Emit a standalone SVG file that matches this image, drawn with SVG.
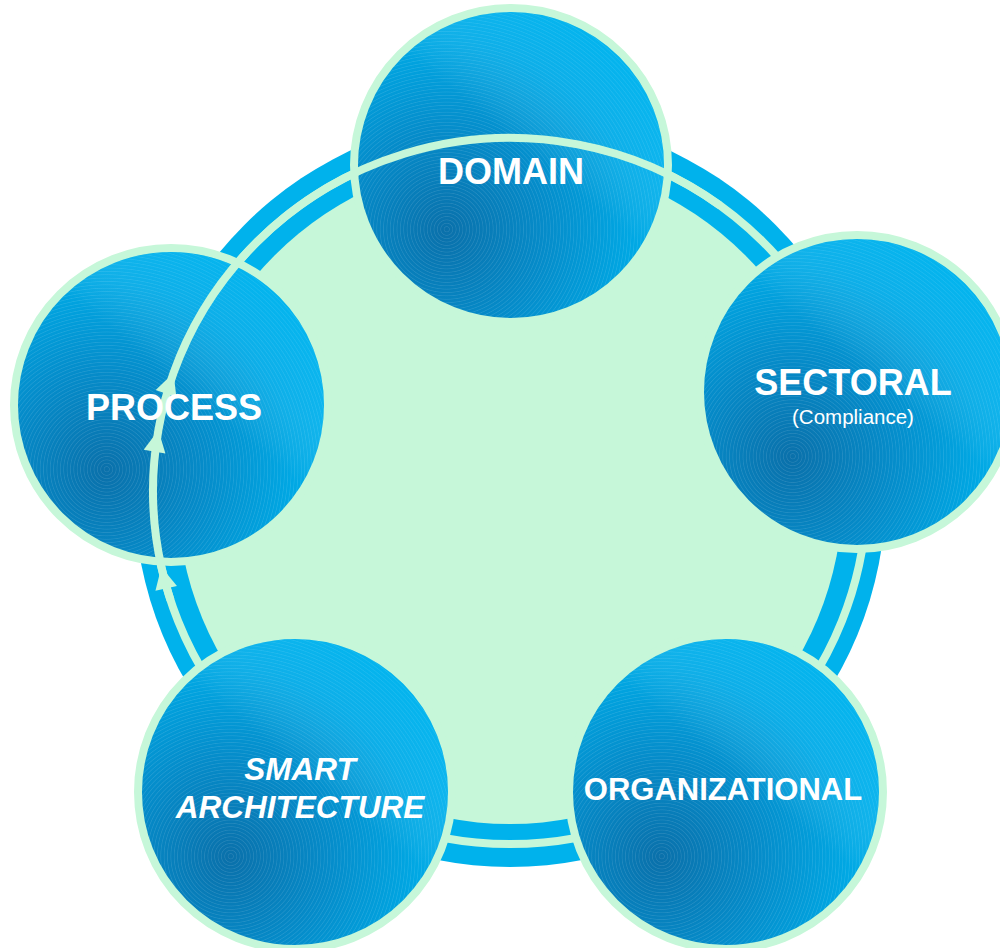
<svg xmlns="http://www.w3.org/2000/svg" width="1000" height="948" viewBox="0 0 1000 948">
  <defs>
    <!-- shaded sphere fill: dark spot low-left, bright rim top-right -->
    <radialGradient id="sphere" cx="0.29" cy="0.71" r="0.8" fx="0.29" fy="0.71">
      <stop offset="0" stop-color="#0A70AA"/>
      <stop offset="0.4" stop-color="#058CCA"/>
      <stop offset="0.75" stop-color="#00A8E4"/>
      <stop offset="1" stop-color="#00B4EE"/>
    </radialGradient>
    <!-- fine concentric line texture -->
    <radialGradient id="rings" cx="0.29" cy="0.71" r="0.011" fx="0.29" fy="0.71" spreadMethod="repeat">
      <stop offset="0" stop-color="#FFFFFF" stop-opacity="0"/>
      <stop offset="0.55" stop-color="#FFFFFF" stop-opacity="0"/>
      <stop offset="0.8" stop-color="#FFFFFF" stop-opacity="0.5"/>
      <stop offset="1" stop-color="#FFFFFF" stop-opacity="0"/>
    </radialGradient>
    <!-- soft sheen across the upper right -->
    <linearGradient id="sheen" x1="0.2" y1="0.9" x2="0.85" y2="0.1">
      <stop offset="0" stop-color="#FFFFFF" stop-opacity="0"/>
      <stop offset="0.55" stop-color="#FFFFFF" stop-opacity="0"/>
      <stop offset="0.75" stop-color="#4FD0FF" stop-opacity="0.18"/>
      <stop offset="1" stop-color="#00B3EE" stop-opacity="0.3"/>
    </linearGradient>
    <marker id="arrow" markerUnits="userSpaceOnUse" markerWidth="30" markerHeight="30"
            viewBox="-26 -15 30 30" refX="0" refY="0" orient="auto">
      <path d="M0,0 L-22,-11 L-22,11 Z" fill="#C6F7D9"/>
    </marker>
    <style>
      .ball { fill: url(#sphere); stroke: #C6F7D9; stroke-width: 8; }
      .tex { fill: url(#rings); opacity: 0.22; }
      .shine { fill: url(#sheen); }
      .lbl { font-family: "Liberation Sans", Arial, sans-serif; font-weight: bold; fill: #FFFFFF; text-anchor: middle; }
      .sub { font-family: "Liberation Sans", Arial, sans-serif; fill: #FFFFFF; text-anchor: middle; }
      .ring { fill: none; stroke: #C6F7D9; stroke-width: 8; }
    </style>
  </defs>

  <rect x="0" y="0" width="1000" height="948" fill="#FFFFFF"/>

  <!-- central hub: blue band, thin pale ring, pale core -->
  <g id="hub">
    <circle cx="510" cy="491" r="376" fill="#00B2EC"/>
    <ellipse class="ring" cx="510" cy="491" rx="357" ry="353"/>
    <circle cx="510" cy="491" r="333" fill="#C6F7D9"/>
  </g>

  <g id="node-domain">
    <circle class="ball" cx="511" cy="165" r="157"/>
    <circle class="tex" cx="511" cy="165" r="153"/>
    <circle class="shine" cx="511" cy="165" r="153"/>
    <text class="lbl" x="511" y="184" font-size="36">DOMAIN</text>
  </g>

  <g id="node-sectoral">
    <circle class="ball" cx="857" cy="392" r="157"/>
    <circle class="tex" cx="857" cy="392" r="153"/>
    <circle class="shine" cx="857" cy="392" r="153"/>
    <text class="lbl" x="853" y="395" font-size="36">SECTORAL</text>
    <text class="sub" x="853" y="424" font-size="20.5">(Compliance)</text>
  </g>

  <g id="node-organizational">
    <circle class="ball" cx="726" cy="792" r="157"/>
    <circle class="tex" cx="726" cy="792" r="153"/>
    <circle class="shine" cx="726" cy="792" r="153"/>
    <text class="lbl" x="723" y="800" font-size="31">ORGANIZATIONAL</text>
  </g>

  <g id="node-smart-architecture">
    <circle class="ball" cx="295" cy="792" r="157"/>
    <circle class="tex" cx="295" cy="792" r="153"/>
    <circle class="shine" cx="295" cy="792" r="153"/>
    <text class="lbl" x="300" y="780" font-size="31.5" font-style="italic">SMART</text>
    <text class="lbl" x="300" y="818" font-size="31.5" font-style="italic">ARCHITECTURE</text>
  </g>

  <g id="node-process">
    <circle class="ball" cx="171" cy="405" r="157"/>
    <circle class="tex" cx="171" cy="405" r="153"/>
    <circle class="shine" cx="171" cy="405" r="153"/>
  </g>

  <!-- flow arc running up the left side and across the top -->
  <g id="connectors">
    <path class="ring" marker-mid="url(#arrow)"
          d="M170.5,600 A357,353 0 0 1 161.4,567 A357,353 0 0 1 158.4,430 A357,353 0 0 1 173.5,373 A357,353 0 0 1 720,205.5"/>
  </g>

  <g id="node-process-label">
    <text class="lbl" x="174" y="420" font-size="36">PROCESS</text>
  </g>
</svg>
